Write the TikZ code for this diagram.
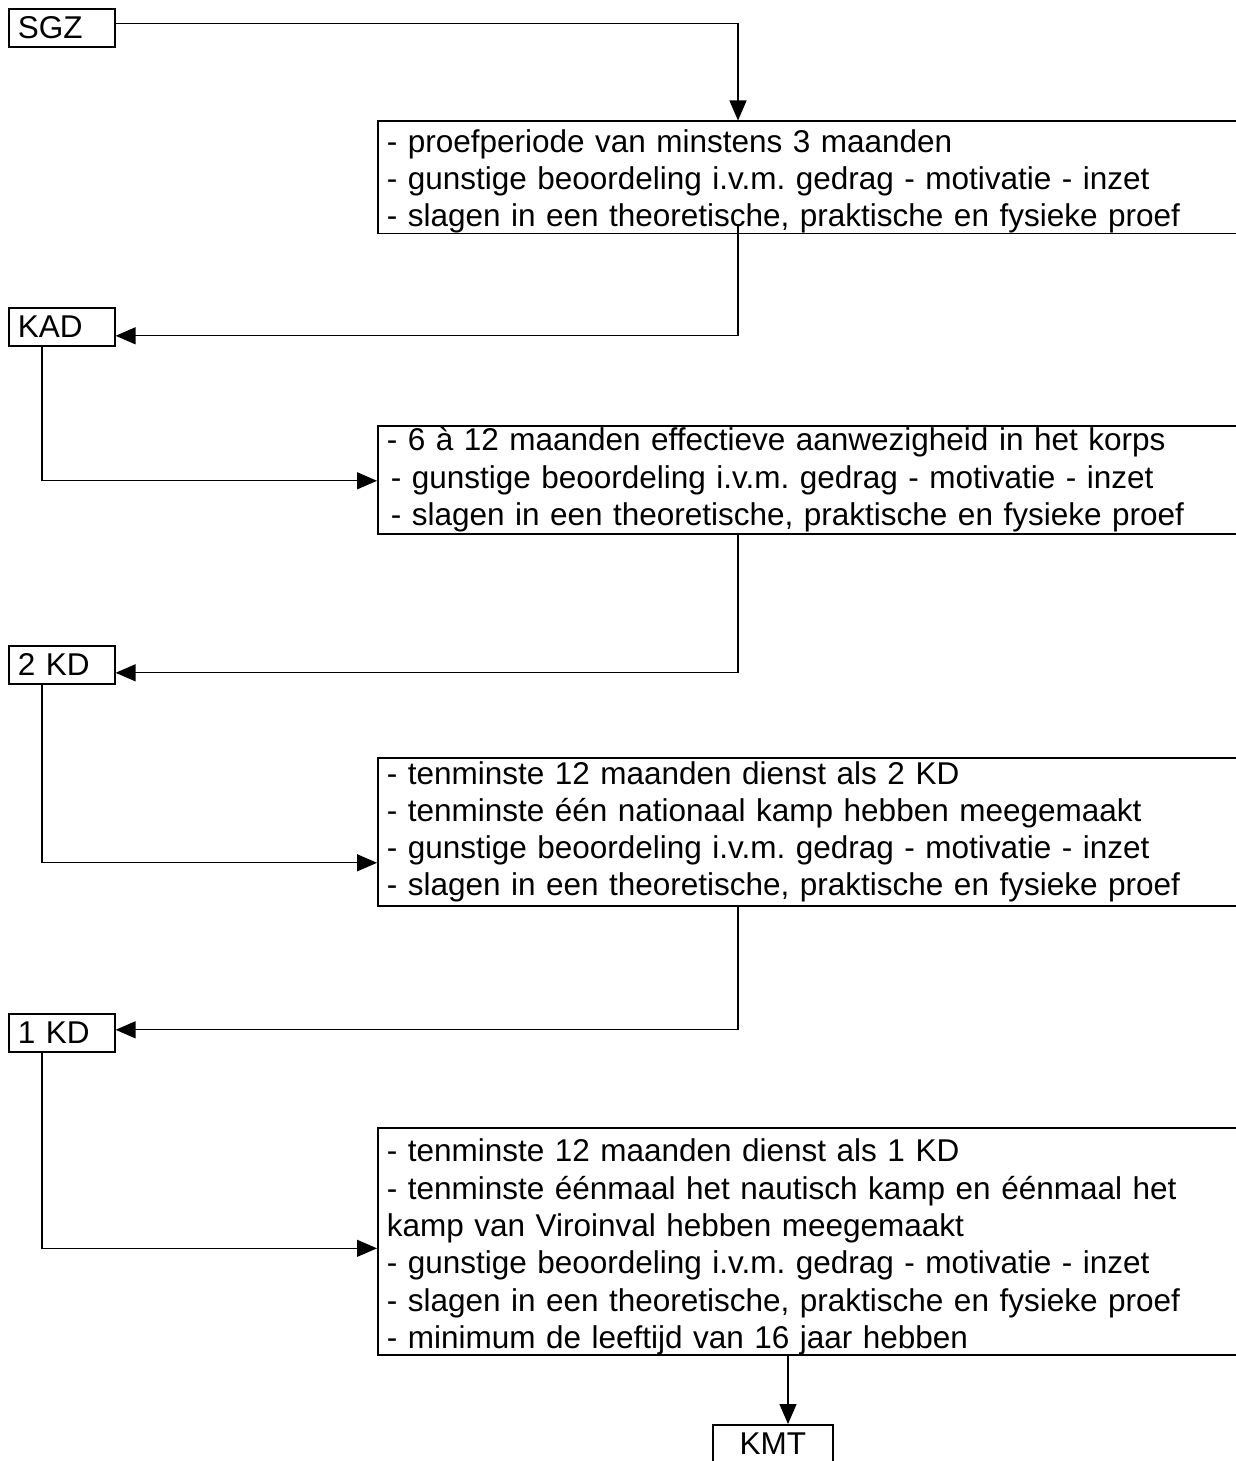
\documentclass[tikz,border=0pt]{standalone}
\usepackage{fontspec}
\setmainfont{Liberation Sans}
\usetikzlibrary{arrows.meta}
\begin{document}
\frenchspacing
\begin{tikzpicture}[x=1pt,y=-1pt,
  every node/.style={font=\fontsize{31.5}{37.3}\selectfont},
  req/.style={draw, line width=1.6pt, anchor=north west, inner xsep=9pt, inner ysep=0pt,
    text width=850pt, align=left},
  rank/.style={draw, line width=1.6pt, anchor=north west, inner xsep=9pt, inner ysep=0pt,
    text width=88pt, minimum height=38pt, align=left},
  conn/.style={line width=1.3pt},
  arr/.style={conn, -{Triangle[length=20pt,width=17pt]}}]
\useasboundingbox (0,0) rectangle (1236,1461);
% rank boxes
\node[rank] (sgz) at (8,8) {SGZ};
\node[rank] (kad) at (8,307) {KAD};
\node[rank] (kd2) at (8,645) {2 KD};
\node[rank] (kd1) at (8,1013) {1 KD};
\node[rank, text width=102pt, align=center] (kmt) at (712,1424) {KMT};
% requirement boxes
\node[req, minimum height=112pt] (b1) at (377,120.5) {\rule{0pt}{31pt}- proefperiode van minstens 3 maanden\\
- gunstige beoordeling i.v.m. gedrag - motivatie - inzet\\
- slagen in een theoretische, praktische en fysieke proef};
\node[req, minimum height=108pt] (b2) at (377,425) {- 6 à 12 maanden effectieve aanwezigheid in het korps\\
\hspace*{4pt}- gunstige beoordeling i.v.m. gedrag - motivatie - inzet\\
\hspace*{4pt}- slagen in een theoretische, praktische en fysieke proef};
\node[req, minimum height=148pt] (b3) at (377,757) {- tenminste 12 maanden dienst als 2 KD\\
- tenminste één nationaal kamp hebben meegemaakt\\
- gunstige beoordeling i.v.m. gedrag - motivatie - inzet\\
- slagen in een theoretische, praktische en fysieke proef};
\node[req, minimum height=226pt] (b4) at (377,1127) {\rule{0pt}{34pt}- tenminste 12 maanden dienst als 1 KD\\
- tenminste éénmaal het nautisch kamp en éénmaal het\\
kamp van Viroinval hebben meegemaakt\\
- gunstige beoordeling i.v.m. gedrag - motivatie - inzet\\
- slagen in een theoretische, praktische en fysieke proef\\
- minimum de leeftijd van 16 jaar hebben};
% trunk coordinates
\coordinate (cx) at (738,0);
\coordinate (lx) at (42,0);
\coordinate (kx) at (788,0);
% connectors
\draw[arr] ([yshift=4pt]sgz.east) -| (cx |- b1.north);
\draw[arr] ([yshift=10pt]b1.south -| cx) |- ([yshift=-9pt]kad.east);
\draw[arr] (lx |- kad.south) |- ([yshift=-1pt]b2.west);
\draw[arr] (cx |- b2.south) |- ([yshift=-8pt]kd2.east);
\draw[arr] (lx |- kd2.south) |- ([yshift=-31pt]b3.west);
\draw[arr] (cx |- b3.south) |- ([yshift=3pt]kd1.east);
\draw[arr] (lx |- kd1.south) |- ([yshift=-7pt]b4.west);
\draw[arr] (kx |- b4.south) -- (kx |- kmt.north);
\end{tikzpicture}
\end{document}
